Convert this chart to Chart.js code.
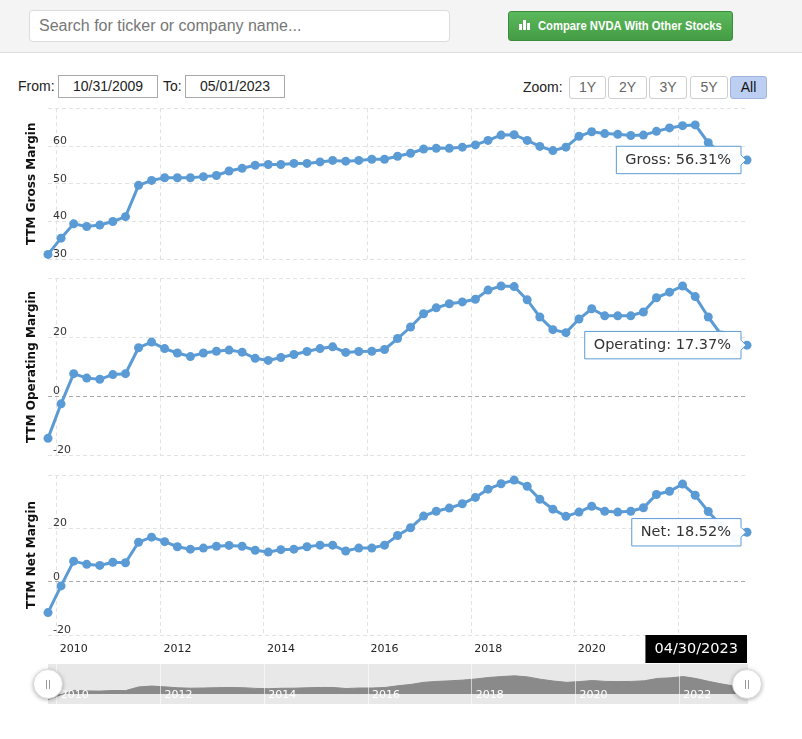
<!DOCTYPE html>
<html>
<head>
<meta charset="utf-8">
<script src="https://cdn.jsdelivr.net/npm/chart.js@4.4.0/dist/chart.umd.min.js"></script>
<style>
html,body{margin:0;padding:0;background:#fff;width:802px;height:739px;overflow:hidden;font-family:"Liberation Sans",Arial,sans-serif;}
.abs{position:absolute;}
#hdr{left:0;top:0;width:802px;height:52px;background:#f4f4f4;border-bottom:1px solid #dedede;}
#search{left:29px;top:10px;width:421px;height:32px;background:#fff;border:1px solid #dcdcdc;border-radius:4px;box-sizing:border-box;color:#777;font-size:16px;line-height:30px;padding-left:9px;}
#btn{left:508px;top:11px;width:225px;height:30px;border-radius:3px;box-sizing:border-box;border:1px solid #3d8b3d;background:linear-gradient(#5cb85c,#449d44);}
#btnText{left:29px;top:0;line-height:28px;color:#fff;font-weight:bold;font-size:13px;white-space:nowrap;transform:scaleX(0.865);transform-origin:0 50%;}
.bar{position:absolute;background:#fff;width:3px;bottom:10px;}
.lbl{font-size:14px;color:#222;line-height:23px;top:75px;}
.box{top:75px;height:23px;width:100px;border:1px solid #a9a9a9;box-sizing:border-box;font-size:14px;color:#222;text-align:center;line-height:21px;background:#fff;}
.zb{top:76px;height:23px;border:1px solid #cfcfcf;border-radius:3px;box-sizing:border-box;font-size:14px;color:#666;text-align:center;line-height:21px;background:#fff;}
canvas{position:absolute;left:0;}
.handle{position:absolute;width:30px;height:30px;border-radius:50%;background:#fff;border:1px solid #d8d8d8;box-shadow:0 1px 4px rgba(0,0,0,0.3);box-sizing:border-box;}
.grip{position:absolute;top:10px;width:1px;height:9px;background:#9a9a9a;}
</style>
</head>
<body>
<div id="hdr" class="abs"></div>
<div id="search" class="abs">Search for ticker or company name...</div>
<div id="btn" class="abs">
  <div class="bar" style="left:10px;height:6px;"></div>
  <div class="bar" style="left:14px;height:10px;"></div>
  <div class="bar" style="left:18px;height:7px;"></div>
  <div id="btnText" class="abs">Compare NVDA With Other Stocks</div>
</div>
<div class="abs lbl" style="left:18px;">From:</div>
<div class="abs box" style="left:58px;">10/31/2009</div>
<div class="abs lbl" style="left:163px;">To:</div>
<div class="abs box" style="left:185px;">05/01/2023</div>
<div class="abs lbl" style="left:523px;top:76px;">Zoom:</div>
<div class="abs zb" style="left:569px;width:37px;">1Y</div>
<div class="abs zb" style="left:608px;width:39px;">2Y</div>
<div class="abs zb" style="left:649px;width:38px;">3Y</div>
<div class="abs zb" style="left:690px;width:38px;">5Y</div>
<div class="abs zb" style="left:730px;width:37px;background:#bccff3;border-color:#9fb3dc;color:#111;">All</div>

<canvas id="gross" width="802" height="170" style="top:100px;width:802px;height:170px;"></canvas>
<canvas id="oper" width="802" height="190" style="top:270px;width:802px;height:190px;"></canvas>
<canvas id="net" width="802" height="205" style="top:465px;width:802px;height:205px;"></canvas>
<canvas id="nav" width="802" height="55" style="top:655px;width:802px;height:55px;"></canvas>

<div class="handle" style="left:33px;top:669px;"><div class="grip" style="left:12px;"></div><div class="grip" style="left:15px;"></div></div>
<div class="handle" style="left:732px;top:669px;"><div class="grip" style="left:12px;"></div><div class="grip" style="left:15px;"></div></div>

<script>
const dates = [
  '2009-10-31','2010-01-31','2010-04-30','2010-07-31','2010-10-31',
  '2011-01-31','2011-04-30','2011-07-31','2011-10-31',
  '2012-01-31','2012-04-30','2012-07-31','2012-10-31',
  '2013-01-31','2013-04-30','2013-07-31','2013-10-31',
  '2014-01-31','2014-04-30','2014-07-31','2014-10-31',
  '2015-01-31','2015-04-30','2015-07-31','2015-10-31',
  '2016-01-31','2016-04-30','2016-07-31','2016-10-31',
  '2017-01-31','2017-04-30','2017-07-31','2017-10-31',
  '2018-01-31','2018-04-30','2018-07-31','2018-10-31',
  '2019-01-31','2019-04-30','2019-07-31','2019-10-31',
  '2020-01-31','2020-04-30','2020-07-31','2020-10-31',
  '2021-01-31','2021-04-30','2021-07-31','2021-10-31',
  '2022-01-31','2022-04-30','2022-07-31','2022-10-31',
  '2023-01-31','2023-04-30'
];
const grossMargin = [31.3,35.6,39.4,38.7,39.1,40.0,41.3,49.6,50.9,51.6,51.6,51.6,51.9,52.2,53.4,54.1,54.9,55.1,55.1,55.4,55.4,55.8,56.2,56.0,56.2,56.5,56.5,57.3,58.1,59.2,59.4,59.4,59.7,60.3,61.5,62.9,63.0,61.5,59.9,58.8,59.7,62.6,63.8,63.3,63.1,62.8,62.9,63.9,64.8,65.4,65.6,60.9,58.0,56.9,56.31];
const operatingMargin = [-14.2,-2.5,7.7,6.2,5.8,7.4,7.7,16.5,18.4,16.2,14.7,13.5,14.7,15.3,15.7,15.0,12.9,12.2,13.2,14.2,15.2,16.2,16.8,14.9,15.2,15.3,15.9,19.6,23.5,28.0,30.0,31.4,32.0,32.9,36.0,37.4,37.2,32.7,26.9,22.6,21.6,26.2,29.7,27.3,27.3,27.3,28.6,33.4,35.3,37.4,33.8,26.9,20.8,15.7,17.37];
const netMargin = [-11.6,-1.6,7.7,6.5,6.1,7.3,7.1,14.8,16.7,15.0,13.1,12.2,12.6,13.3,13.6,13.3,11.8,11.1,12.0,12.2,13.1,13.7,13.7,11.5,12.6,12.6,13.7,17.3,20.2,24.6,26.4,27.6,29.2,31.6,34.7,36.7,38.1,35.8,30.9,27.2,24.5,26.1,28.3,26.4,26.1,26.4,27.7,32.7,33.9,36.6,32.4,26.3,20.9,16.2,18.52];
const xTickYears = [2010,2012,2014,2016,2018,2020,2022];
const grossYTicks = [30,40,50,60,70];
const marginYTicks = [-20,0,20,40];
const navYRange = [-21,63];

const BLUE = '#5b9bd5';
const FONT = '"DejaVu Sans", Verdana, sans-serif';
Chart.defaults.font.family = FONT;

function toYear(d) {
  const [y, m, dd] = d.split('-').map(Number);
  const t = Date.UTC(y, m - 1, dd), t0 = Date.UTC(y, 0, 1), t1 = Date.UTC(y + 1, 0, 1);
  return y + (t - t0) / (t1 - t0);
}
function fmtDate(d) {
  const [y, m, dd] = d.split('-');
  return m + '/' + dd + '/' + y;
}
const xMin = toYear(dates[0]);
const xMax = toYear(dates[dates.length - 1]);
const series = v => dates.map((d, i) => ({x: toYear(d), y: v[i]}));

const dateFlag = {
  id: 'dateFlag',
  afterDraw(chart) {
    const {ctx, chartArea, scales} = chart;
    const label = fmtDate(dates[dates.length - 1]);
    ctx.save();
    ctx.font = '14.5px ' + FONT;
    const w = ctx.measureText(label).width + 18, h = 28;
    const cx = scales.x.getPixelForValue(xMax);
    const left = Math.min(cx - w / 2, chartArea.right - w);
    ctx.fillStyle = '#000';
    ctx.fillRect(left, chartArea.bottom, w, h);
    ctx.fillStyle = '#fff';
    ctx.textAlign = 'center';
    ctx.textBaseline = 'middle';
    ctx.fillText(label, left + w / 2, chartArea.bottom + h / 2 + 0.5);
    ctx.restore();
  }
};

function makePanel(id, name, title, values, yTicks, o) {
  const chart = new Chart(document.getElementById(id), {
    type: 'line',
    data: {datasets: [{
      label: name, data: series(values),
      borderColor: BLUE, backgroundColor: BLUE, borderWidth: 3,
      pointRadius: 4.5, pointHoverRadius: 4.5, pointBorderWidth: 0, pointHoverBorderWidth: 0,
      pointBackgroundColor: BLUE, pointHoverBackgroundColor: BLUE,
      tension: 0, clip: false
    }]},
    options: {
      responsive: false, animation: false, events: [],
      layout: {padding: o.padding},
      plugins: {
        legend: {display: false},
        tooltip: {
          enabled: true,
          backgroundColor: 'rgba(255,255,255,0.96)',
          borderColor: BLUE, borderWidth: 1, cornerRadius: 0,
          displayColors: false, bodyColor: '#333',
          bodyFont: {size: 14.5},
          padding: {left: 9, right: 10, top: 5, bottom: 5},
          caretSize: 5, caretPadding: 1,
          xAlign: 'right', yAlign: 'center',
          callbacks: {
            title: () => '',
            label: c => name + ': ' + c.parsed.y.toFixed(2) + '%'
          }
        }
      },
      scales: {
        x: {
          type: 'linear', min: xMin, max: xMax,
          afterBuildTicks: s => { s.ticks = xTickYears.map(v => ({value: v})); },
          afterFit: s => { s.height = o.xHeight; s.paddingLeft = 0; s.paddingRight = 0; },
          grid: {color: '#e2e2e2', drawTicks: false, lineWidth: 1},
          border: {display: false, dash: [4, 3]},
          ticks: {display: o.showX, align: 'start', labelOffset: 3, padding: 8, color: '#222',
                  font: {size: 11}, maxRotation: 0, autoSkip: false, callback: v => String(v)}
        },
        y: {
          type: 'linear', min: yTicks[0], max: yTicks[yTicks.length - 1],
          afterBuildTicks: s => { s.ticks = yTicks.map(v => ({value: v})); },
          afterFit: s => { s.width = 48; s.paddingTop = 0; s.paddingBottom = 0; },
          title: {display: true, text: title, color: '#111', font: {size: 12, weight: 'bold'},
                  padding: {top: 25, bottom: 0}},
          grid: {color: c => (c.tick && c.tick.value === 0) ? '#a8a8a8' : '#e2e2e2', drawTicks: false},
          border: {display: false, dash: [4, 3]},
          ticks: {mirror: true, padding: 5, labelOffset: -5, color: '#333', font: {size: 11},
                  callback: v => v === yTicks[yTicks.length - 1] ? '' : String(v)}
        }
      }
    },
    plugins: o.plugins || []
  });
  const last = [{datasetIndex: 0, index: values.length - 1}];
  chart.setActiveElements(last);
  chart.tooltip.setActiveElements(last, {x: 0, y: 0});
  chart.update();
  return chart;
}

makePanel('gross', 'Gross', 'TTM Gross Margin', grossMargin, grossYTicks,
  {padding: {left: 0, right: 55, top: 8.3, bottom: 10.7}, xHeight: 0, showX: false});
makePanel('oper', 'Operating', 'TTM Operating Margin', operatingMargin, marginYTicks,
  {padding: {left: 0, right: 55, top: 8.3, bottom: 4}, xHeight: 0, showX: false});
makePanel('net', 'Net', 'TTM Net Margin', netMargin, marginYTicks,
  {padding: {left: 0, right: 55, top: 10, bottom: 5}, xHeight: 30, showX: true, plugins: [dateFlag]});

const navBg = {
  id: 'navBg',
  beforeDraw(chart) {
    const {ctx, chartArea: a} = chart;
    ctx.save();
    ctx.fillStyle = '#e8e8e8';
    ctx.fillRect(a.left, a.top, a.right - a.left, a.bottom - a.top);
    ctx.restore();
  },
  afterDraw(chart) {
    const {ctx, chartArea: a, scales: {x}} = chart;
    ctx.save();
    ctx.font = '11px ' + FONT;
    ctx.fillStyle = '#ffffff';
    ctx.textAlign = 'left';
    ctx.textBaseline = 'middle';
    x.ticks.forEach(t => {
      ctx.fillText(String(t.value), x.getPixelForValue(t.value) + 4, a.bottom - 9);
    });
    ctx.restore();
  }
};
new Chart(document.getElementById('nav'), {
  type: 'line',
  data: {datasets: [{
    data: series(netMargin), borderColor: '#8a8a8a', backgroundColor: '#8a8a8a',
    borderWidth: 1, pointRadius: 0, fill: 'origin', tension: 0
  }]},
  options: {
    responsive: false, animation: false, events: [],
    layout: {padding: {left: 48, right: 54, top: 9, bottom: 6}},
    plugins: {legend: {display: false}, tooltip: {enabled: false}},
    scales: {
      x: {
        type: 'linear', min: xMin, max: xMax,
        afterBuildTicks: s => { s.ticks = xTickYears.map(v => ({value: v})); },
        afterFit: s => { s.height = 0; s.paddingLeft = 0; s.paddingRight = 0; },
        grid: {color: 'rgba(255,255,255,0.6)', drawTicks: false, z: 1},
        border: {display: false},
        ticks: {display: false}
      },
      y: {display: false, min: navYRange[0], max: navYRange[1]}
    }
  },
  plugins: [navBg]
});
</script>
</body>
</html>
